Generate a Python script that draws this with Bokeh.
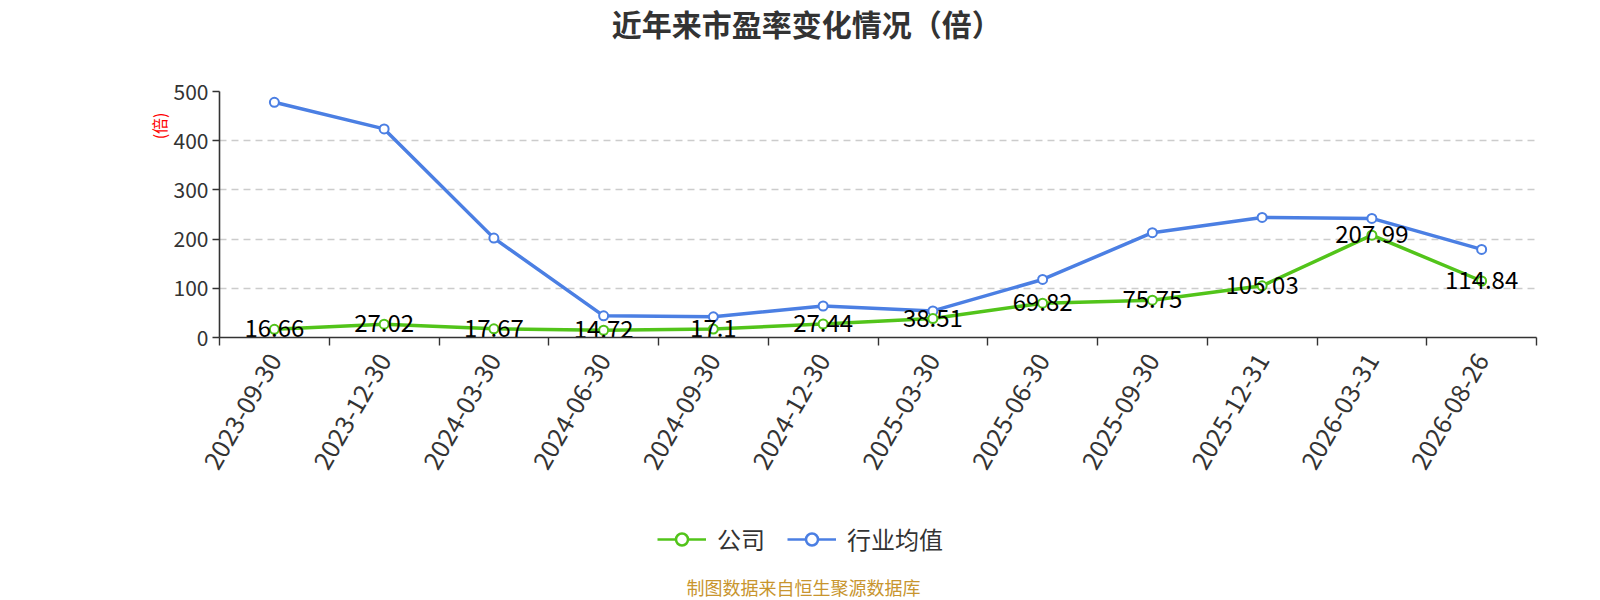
import math
from bokeh.plotting import figure
from bokeh.layouts import column
from bokeh.models import (ColumnDataSource, FixedTicker, Range1d, Legend, LegendItem, Label, Title)
from bokeh.core.properties import value
from bokeh.embed import file_html
from bokeh.resources import INLINE

dates = ["2023-09-30", "2023-12-30", "2024-03-30", "2024-06-30", "2024-09-30", "2024-12-30",
         "2025-03-30", "2025-06-30", "2025-09-30", "2025-12-31", "2026-03-31", "2026-08-26"]
company = [16.66, 27.02, 17.67, 14.72, 17.1, 27.44, 38.51, 69.82, 75.75, 105.03, 207.99, 114.84]
industry = [478, 424, 202, 44, 42, 64, 54, 118, 213, 244, 242, 179]
y_ticks = [0, 100, 200, 300, 400, 500]
series_names = ["公司", "行业均值"]
title_text = "近年来市盈率变化情况（倍）"
unit_text = "(倍)"
source_text = "制图数据来自恒生聚源数据库"

FONT = "Noto Sans CJK SC"
GREEN = "#52C41A"
BLUE = "#4B7FE3"
W = 1590

xs = [i + 0.5 for i in range(len(dates))]
bounds = list(range(len(dates) + 1))

src = ColumnDataSource(dict(x=xs, company=company, industry=industry,
                            clabel=[f"{v:g}" for v in company]))


def blank(height):
    f = figure(width=W, height=height, output_backend="svg", toolbar_location=None,
               x_range=Range1d(0, W), y_range=Range1d(0, height),
               x_axis_location=None, y_axis_location=None,
               min_border_left=0, min_border_right=0, min_border_top=0, min_border_bottom=0)
    f.outline_line_color = None
    f.grid.visible = False
    return f


# ---- top: title
top = blank(60)
top.add_layout(Label(x=709, y=38, text=title_text, text_align="center", text_baseline="middle",
                     text_color="#333333", text_font=FONT, text_font_size="30px",
                     text_font_style="bold"))

# ---- main chart
p = figure(width=W, height=430, output_backend="svg", toolbar_location=None,
           x_range=Range1d(0, len(dates)), y_range=Range1d(0, 500),
           min_border_left=219, min_border_right=W - 1536, min_border_top=31, min_border_bottom=153)
p.outline_line_color = None

p.xgrid.visible = False
p.ygrid.ticker = FixedTicker(ticks=y_ticks)
p.ygrid.grid_line_color = "#cccccc"
p.ygrid.grid_line_dash = "7 5"
p.ygrid.grid_line_width = 1.3

p.yaxis.ticker = FixedTicker(ticks=y_ticks)
p.yaxis.axis_line_color = "#333333"
p.yaxis.axis_line_width = 1.6
p.yaxis.major_tick_line_color = "#333333"
p.yaxis.major_tick_line_width = 1.4
p.yaxis.major_tick_out = 7
p.yaxis.major_tick_in = 0
p.yaxis.minor_tick_line_color = None
p.yaxis.major_label_text_font = FONT
p.yaxis.major_label_text_font_size = "21px"
p.yaxis.major_label_text_color = "#333333"
p.yaxis.major_label_standoff = 4

p.xaxis.ticker = FixedTicker(ticks=xs, minor_ticks=bounds)
p.xaxis.major_label_overrides = {x: d for x, d in zip(xs, dates)}
p.xaxis.major_label_orientation = math.pi / 3
p.xaxis.axis_line_color = "#333333"
p.xaxis.axis_line_width = 1.6
p.xaxis.major_tick_line_color = None
p.xaxis.minor_tick_line_color = "#333333"
p.xaxis.minor_tick_line_width = 1.4
p.xaxis.minor_tick_out = 8
p.xaxis.minor_tick_in = 0
p.xaxis.major_label_text_font = FONT
p.xaxis.major_label_text_font_size = "25px"
p.xaxis.major_label_text_color = "#333333"
p.xaxis.major_label_standoff = 10

p.line("x", "industry", source=src, line_color=BLUE, line_width=3.5)
p.scatter("x", "industry", source=src, size=9, fill_color="white", line_color=BLUE, line_width=2)
p.line("x", "company", source=src, line_color=GREEN, line_width=3.5)
p.scatter("x", "company", source=src, size=9, fill_color="white", line_color=GREEN, line_width=2)

p.text("x", "company", text="clabel", source=src, text_align="center", text_baseline="middle",
       text_font=value(FONT), text_font_size="24px", text_color="#000000", y_offset=-1)

# unit name on the left, near the top of the axis
p.add_layout(Title(text=unit_text, align="right", offset=21, standoff=0, text_color="red",
                   text_font=FONT, text_font_size="16px", text_font_style="normal"), "left")

# ---- bottom: legend + source
bot = blank(110)
# legend-only renderers: their single point lies outside the visible range
hidden = ColumnDataSource(dict(x=[-500], y=[-500]))
lg1 = bot.line("x", "y", source=hidden, line_color=GREEN, line_width=2.5)
sg1 = bot.scatter("x", "y", source=hidden, size=23, fill_color="white", line_color=GREEN, line_width=2.5)
lg2 = bot.line("x", "y", source=hidden, line_color=BLUE, line_width=2.5)
sg2 = bot.scatter("x", "y", source=hidden, size=23, fill_color="white", line_color=BLUE, line_width=2.5)
legend = Legend(items=[LegendItem(label=series_names[0], renderers=[lg1, sg1]),
                       LegendItem(label=series_names[1], renderers=[lg2, sg2])],
                orientation="horizontal", location=(438, 44), border_line_color=None,
                background_fill_alpha=0, glyph_width=49, glyph_height=30, label_height=30,
                label_text_font=FONT, label_text_font_size="24px", label_text_color="#333333",
                spacing=22, margin=0, padding=4, label_standoff=11)
bot.add_layout(legend, "center")
bot.add_layout(Label(x=705, y=14, text=source_text, text_align="center", text_baseline="middle",
                     text_color="#C8952E", text_font=FONT, text_font_size="18px"))

layout = column(top, p, bot, spacing=0)
open("out.html", "w").write(file_html(layout, INLINE))
